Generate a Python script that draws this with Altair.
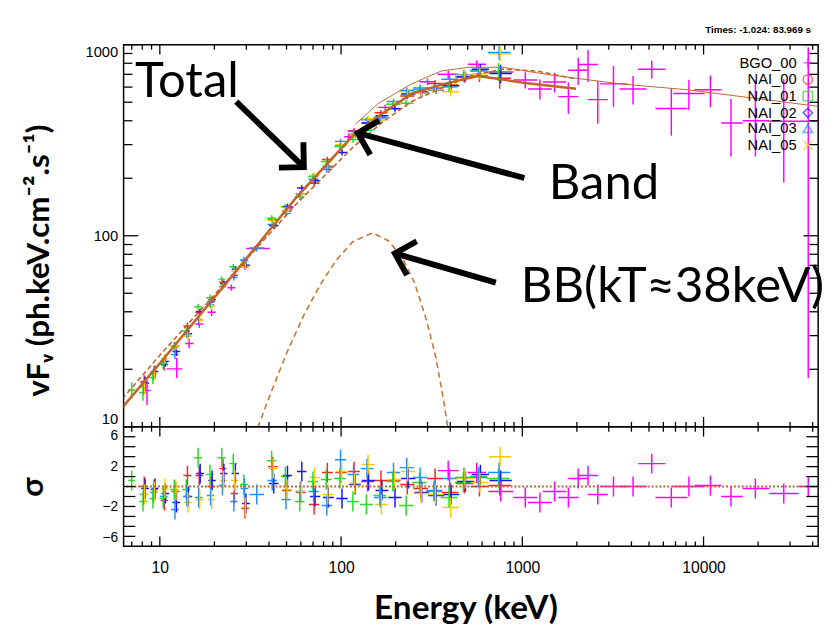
import altair as alt
import pandas as pd

# ---------------- data ----------------
DETECTORS = ["BGO_00", "NAI_00", "NAI_01", "NAI_02", "NAI_03", "NAI_05"]
DET_COLORS = ["#ff00ff", "#ff2020", "#22dd22", "#1515ff", "#1e90ff", "#f2cc00"]
DET_SHAPES = ["M-1,0H1M0,-1V1", "circle", "square", "diamond", "triangle-up", "M-1,-1L1,1M-1,1L1,-1"]

# NaI energy bins (keV)
NAI_E = [7.1, 8.2, 9.3, 10.6, 12.2, 14.2, 16.5, 19.2, 22.3, 25.8, 29.5, 34.5, 42, 50, 60, 71, 84, 100, 118, 140, 166, 196, 232, 275, 330, 400, 480, 580, 750]
NAI_ELO = [6.8, 7.8, 8.9, 10.1, 11.6, 13.5, 15.7, 18.3, 21.3, 24.6, 28.1, 31.5, 39.5, 47.2, 56.5, 66.5, 78.5, 93, 109.5, 129, 153, 180, 212, 251, 298, 360, 430, 520, 650]
NAI_EHI = [7.4, 8.6, 9.7, 11.1, 12.8, 14.9, 17.3, 20.1, 23.3, 27.0, 31.0, 37.8, 44.6, 53, 63.7, 75.8, 90, 107.5, 127, 152, 180, 213, 254, 301, 365, 444, 536, 647, 865]
NAI_DF = [1.5, 1.4, 1.4, 1.4, 1.35, 1.45, 1.5, 1.8, 1.9, 2.2, 2.6, 3.6, 4.5, 4.8, 5.9, 7.0, 8.4, 10, 11.8, 13.3, 15.1, 16.8, 21.4, 22.9, 27.2, 31.8, 39.7, 48, 79]
NAI_SHIFT = {"NAI_00": 1.0, "NAI_01": 0.985, "NAI_02": 1.012, "NAI_03": 0.993, "NAI_05": 1.006}

NAI_F = {
    "NAI_00": [None, 17.2, 19.4, 21.1, 26.3, 33.7, 39.8, 45.2, 57.2, 62.2, 68.8, None, 121, 135, 165.5, 188.3, 250.7, 299, 355, 388, 440, 490, 539, 568, 626, 616, 673, 686, 668],
    "NAI_01": [15.6, 15.1, 18.1, 21.3, 26.6, 31.7, 42.5, 47.4, 59.3, 68.9, 75.0, None, 123.6, 141.8, 160, 204.5, 244.9, 293, 319, 357, 417, 488, 494, 582, 590, 600, 677, 734, 723],
    "NAI_02": [None, 16.9, 19.5, 22.0, 24.8, 30.7, 40.1, 46.3, 56.2, 66.7, 70.1, None, 113.3, 142.3, 177.9, 194, 229.8, 273, 339, 389, 425, 462, 552, 559, 580, 610, 681, 744, 707],
    "NAI_03": [None, 16.1, 19.0, 21.6, 23.9, 30.7, 36.4, 43.6, 54.0, 60.5, 74.0, 86.4, 114.7, 130.8, 166, 197.5, 223, 312, 351, 405, 414, 504, 576, 594, 593, 660, 697, 729, 910],
    "NAI_05": [None, 16.1, 19.1, 22.7, 26.5, 29.8, 36.1, 42.8, 54.9, 65.1, 69.0, None, 120, 135.6, 166, 207.3, 232.3, 300, 341, 410, 404, 492, 567, 557, 582, 568, 693, 705, 898],
}
NAI_R = {
    "NAI_00": [None, 0.0, -0.3, -1.4, -0.5, 1.1, 1.1, 0.0, 1.8, -0.7, -2.2, None, 2.0, -0.4, -0.6, -1.8, 1.4, 1.4, 1.5, 0.5, 0.6, 0.6, 0.2, -0.2, 0.8, -0.6, 0.3, 0.0, 0.1],
    "NAI_01": [0.6, -1.5, -1.2, -1.2, -0.3, -0.3, 2.9, 1.2, 2.9, 2.3, 0.2, None, 2.6, 1.0, -1.5, 0.5, 0.7, 0.8, -1.5, -1.8, -0.9, 0.5, -1.9, 0.4, -0.5, -1.1, 0.4, 1.0, 0.8],
    "NAI_02": [None, -0.2, -0.2, -0.7, -1.6, -1.0, 1.3, 0.6, 1.3, 1.3, -1.7, None, 0.3, 1.1, 1.5, -1.0, -1.1, -1.2, 0.2, 0.6, -0.4, -1.1, 0.8, -0.6, -0.9, -0.8, 0.5, 1.2, 0.6],
    "NAI_03": [None, -0.8, -0.6, -1.0, -2.3, -1.0, -1.1, -0.9, 0.1, -1.5, -0.2, -0.8, 0.6, -1.3, -0.5, -0.5, -1.9, 2.7, 1.2, 1.8, -1.1, 1.4, 1.9, 0.9, -0.4, 0.8, 0.9, 0.9, 1.4],
    "NAI_05": [None, -0.8, -0.5, -0.2, -0.4, -1.6, -1.3, -1.3, 0.6, 0.6, -2.1, None, 1.8, -0.3, -0.5, 0.9, -0.8, 1.5, 0.3, 2.2, -1.8, 0.7, 1.5, -0.7, -0.8, -2.1, 0.8, 0.4, 3.0],
}

# BGO points in the spectrum panel
BGO_E = [8.5, 12.4, 14.5, 16.5, 19.3, 24.8, 33.4, 52.3, 110, 175, 300, 390, 560, 760, 1038, 1250, 1507, 1795, 2033, 2303, 2608, 3184, 4083, 5176, 6637, 8300, 10910, 14170, 19320, 27700, 37800]
BGO_ELO = [8.1, 10.9, 13.8, 15.7, 18.3, 23.6, 29.9, 50.0, 104, 160, 270, 340, 500, 650, 893, 1076, 1297, 1580, 1790, 2028, 2300, 2680, 3440, 4360, 5430, 6790, 8920, 12500, 16440, 23010, 33420]
BGO_EHI = [8.9, 13.3, 15.3, 17.3, 20.3, 26.0, 40.4, 54.7, 116, 190, 330, 445, 630, 890, 1206, 1452, 1750, 2040, 2310, 2615, 2960, 3780, 4850, 6150, 8110, 10150, 12500, 16440, 23010, 33420, 43450]
BGO_F = [15.5, 20.1, 27.3, 34.5, 39.8, 53.5, 85.7, 141, 330, 470, 640, 700, 790, 720, 653, 587, 638, 535, 736, 789, 516, 624, 587, 745, 464, 555, 581, 389, 400, 398, 398]
BGO_FLO = [13.0, 18.0, 25.8, 33.0, 38.0, 51.5, 83.0, 137, 318, 455, 615, 665, 750, 675, 590, 517, 563, 435, 616, 639, 386, 474, 487, 665, 334, 455, 471, 260, 260, 190, 18]
BGO_FHI = [17.4, 23.0, 28.8, 36.0, 41.7, 55.5, 88.5, 145, 342, 485, 665, 735, 830, 765, 718, 657, 713, 635, 856, 939, 646, 774, 687, 825, 594, 655, 691, 520, 650, 660, 970]

# BGO residuals
BGO_RE = [390, 560, 760, 1038, 1250, 1507, 1795, 2033, 2303, 2608, 3184, 4083, 5176, 6637, 8300, 10910, 14170, 19320, 27700, 37800]
BGO_RLO = [340, 500, 650, 893, 1076, 1297, 1580, 1790, 2028, 2300, 2680, 3440, 4360, 5430, 6790, 8920, 12500, 16440, 23010, 33420]
BGO_RHI = [445, 630, 890, 1206, 1452, 1750, 2040, 2310, 2615, 2960, 3780, 4850, 6150, 8110, 10150, 12500, 16440, 23010, 33420, 43450]
BGO_R = [1.6, 1.4, -0.5, -1.1, -1.6, -0.5, -1.1, 0.8, 1.1, -0.8, 0.0, 0.0, 2.3, -1.1, 0.0, 0.1, -1.0, -0.2, -0.7, 0.0]

# model curves
TOTAL_E = [6.2, 10, 21.1, 57, 116, 169, 245, 370, 571, 810, 1038, 1981]
TOTAL_F = [12.6, 21.5, 50.5, 160, 333, 437, 555, 624, 686, 653, 631, 588]
BAND_E = [6.2, 10, 20.3, 57, 116, 169, 245, 370, 537, 780, 1205, 1981]
BAND_F = [14.0, 23.7, 49.8, 147.5, 290, 393, 505, 601, 693, 745, 728, 662]
BB_E = [34.7, 40.8, 50.5, 62.4, 76.1, 94.0, 116, 149, 182, 216, 254, 295, 334, 370, 384, 392]
BB_F = [9.9, 14.9, 24.8, 38.5, 54.7, 74.5, 93.1, 103.6, 94.2, 78.0, 56.8, 36.6, 22.9, 13.3, 10.5, 9.1]
THIN_E = [120, 160, 245, 356, 505, 780, 1452, 3475, 8300, 43400]
THIN_F = [384, 492, 624, 728, 762, 762, 693, 624, 580, 475]

# annotations (data coordinates)
ANNOT_TEXT = ["Total", "Band", "BB(kT\u224838keV)"]
ANNOT_E = [7.3, 1400, 980]
ANNOT_F = [535, 155, 44.8]
ARROW_E0 = [26.4, 1026, 714]
ARROW_F0 = [504, 200.7, 56.8]
ARROW_E1 = [62.3, 123.6, 198]
ARROW_F1 = [228.6, 345, 80.9]
ARROW_ANGLE = [134, 285, 286]

XT_MAJOR = [10, 100, 1000, 10000]
XT_MINOR = [7, 8, 9, 20, 30, 40, 50, 60, 70, 80, 90, 200, 300, 400, 500, 600, 700, 800, 900,
            2000, 3000, 4000, 5000, 6000, 7000, 8000, 9000, 20000, 30000, 40000]
YT_MAJOR = [10, 100, 1000]
YT_MINOR = [20, 30, 40, 50, 60, 70, 80, 90, 200, 300, 400, 500, 600, 700, 800, 900]
RT_VALUES = [-5, -4, -3, -2, -1, 0, 1, 2, 3, 4, 5]
RT_LABELS = [-6, -4, -2, 0, 2, 4, 6]

# ---------------- tables ----------------
rows = []
for i, e in enumerate(BGO_E):
    rows.append(dict(det="BGO_00", E=e, Elo=BGO_ELO[i], Ehi=BGO_EHI[i],
                     F=BGO_F[i], Flo=BGO_FLO[i], Fhi=BGO_FHI[i]))
for det in ["NAI_00", "NAI_01", "NAI_02", "NAI_03", "NAI_05"]:
    s = NAI_SHIFT[det]
    for i, e in enumerate(NAI_E):
        f = NAI_F[det][i]
        if f is None:
            continue
        rows.append(dict(det=det, E=e * s, Elo=NAI_ELO[i] * s, Ehi=NAI_EHI[i] * s,
                         F=f, Flo=f - NAI_DF[i], Fhi=f + NAI_DF[i]))
main_df = pd.DataFrame(rows)

rrows = []
for det in ["NAI_00", "NAI_01", "NAI_02", "NAI_03", "NAI_05"]:
    s = NAI_SHIFT[det]
    for i, e in enumerate(NAI_E):
        r = NAI_R[det][i]
        if r is None:
            continue
        rrows.append(dict(det=det, E=e * s, Elo=NAI_ELO[i] * s, Ehi=NAI_EHI[i] * s,
                          r=r, rlo=r - 1, rhi=r + 1))
for i, e in enumerate(BGO_RE):
    r = BGO_R[i]
    rrows.append(dict(det="BGO_00", E=e, Elo=BGO_RLO[i], Ehi=BGO_RHI[i], r=r, rlo=r - 1, rhi=r + 1))
res_df = pd.DataFrame(rrows)

# legend proxies: one per detector, placed below the plotted range (clipped away)
legend_df = pd.DataFrame({"det": DETECTORS, "E": [100] * len(DETECTORS), "F": [1] * len(DETECTORS)})

total_df = pd.DataFrame({"E": TOTAL_E, "F": TOTAL_F})
band_df = pd.DataFrame({"E": BAND_E, "F": BAND_F})
bb_df = pd.DataFrame({"E": BB_E, "F": BB_F})
thin_df = pd.DataFrame({"E": THIN_E, "F": THIN_F})
annot_df = pd.DataFrame({"t": ANNOT_TEXT, "E": ANNOT_E, "F": ANNOT_F})
arrow_df = pd.DataFrame({"E0": ARROW_E0, "F0": ARROW_F0, "E1": ARROW_E1, "F1": ARROW_F1, "ang": ARROW_ANGLE})

# ---------------- layout / style ----------------
W, H1, H2 = 709, 390, 122
BROWN = "#c0652a"
LABEL_FONT = "Liberation Sans"
BIG_FONT = "Lato"

XS = alt.Scale(type="log", domain=[6.31, 42870])
YS = alt.Scale(type="log", domain=[10, 1000])
RS = alt.Scale(domain=[-6, 6])
CS = alt.Scale(domain=DETECTORS, range=DET_COLORS)
SS = alt.Scale(domain=DETECTORS, range=DET_SHAPES)

y_axis = alt.Axis(values=YT_MAJOR, format="d", ticks=False, tickSize=0, domain=False, grid=False,
                  labelFont=LABEL_FONT, labelFontSize=15, labelPadding=6, labelFlush=True,
                  labelFlushOffset=0,
                  title="vF\u1d65 (ph.keV.cm\u207b\u00b2.s\u207b\u00b9)", titleFont=BIG_FONT,
                  titleFontSize=32, titleFontWeight="bold", titleAngle=270, titleX=-87, titleY=220,
                  titleAlign="center", titleBaseline="middle")
x_axis = alt.Axis(values=XT_MAJOR, format="d", ticks=False, tickSize=0, domain=False, grid=False,
                  labelFont=LABEL_FONT, labelFontSize=16, labelPadding=14,
                  title="Energy (keV)", titleFont=BIG_FONT, titleFontSize=34, titleFontWeight="bold",
                  titleX=349, titleY=64, titleAlign="center", titleBaseline="middle")
r_axis = alt.Axis(values=RT_LABELS, ticks=False, tickSize=0, domain=False, grid=False,
                  labelFont=LABEL_FONT, labelFontSize=14, labelPadding=6, labelFlush=True,
                  labelFlushOffset=-2,
                  title="\u03c3", titleFont=BIG_FONT, titleFontSize=32, titleFontWeight="bold",
                  titleAngle=270, titleX=-93, titleY=61, titleAlign="center", titleBaseline="middle")


def X(f):          # spectrum panel x (no axis there)
    return alt.X(f"{f}:Q", scale=XS, axis=None)


def XR(f):         # residual panel x
    return alt.X(f"{f}:Q", scale=XS, axis=x_axis)


def Y(f):
    return alt.Y(f"{f}:Q", scale=YS, axis=y_axis)


def R(f):
    return alt.Y(f"{f}:Q", scale=RS, axis=r_axis)


STROKE = alt.Stroke("det:N", scale=CS, legend=None)

LEG = dict(orient="none", legendX=691, legendY=11, title=None, labelFont=LABEL_FONT,
           labelFontSize=15, labelAlign="right", labelOffset={"expr": "-19"}, symbolSize=90,
           symbolStrokeWidth=1.5, rowPadding=0)

# spectrum panel
hbar = alt.Chart(main_df).mark_rule(strokeWidth=1.5, clip=True).encode(
    x=X("Elo"), x2="Ehi", y=Y("F"), stroke=STROKE)
vbar = alt.Chart(main_df).mark_rule(strokeWidth=1.5, clip=True).encode(
    x=X("E"), y=Y("Flo"), y2="Fhi", stroke=STROKE)
legend_pts = alt.Chart(legend_df).mark_point(filled=False, strokeWidth=1.5, clip=True).encode(
    x=X("E"), y=Y("F"),
    color=alt.Color("det:N", scale=CS, legend=alt.Legend(**LEG)),
    shape=alt.Shape("det:N", scale=SS, legend=alt.Legend(**LEG)))

thin = alt.Chart(thin_df).mark_line(color=BROWN, strokeWidth=1, clip=True).encode(x=X("E"), y=Y("F"))
band = alt.Chart(band_df).mark_line(color=BROWN, strokeWidth=1.6, strokeDash=[5, 3], clip=True).encode(x=X("E"), y=Y("F"))
bb = alt.Chart(bb_df).mark_line(color="#c87533", strokeWidth=1.6, strokeDash=[6, 4], clip=True).encode(x=X("E"), y=Y("F"))
total = alt.Chart(total_df).mark_line(color=BROWN, strokeWidth=2.6, clip=True).encode(x=X("E"), y=Y("F"))

texts = alt.Chart(annot_df).mark_text(font=BIG_FONT, fontSize=50, align="left", baseline="alphabetic",
                                      color="black").encode(x=X("E"), y=Y("F"), text="t:N")
arrows = alt.Chart(arrow_df).mark_rule(color="black", strokeWidth=6).encode(
    x=X("E0"), y=Y("F0"), x2="E1", y2="F1")
heads = alt.Chart(arrow_df).mark_point(shape="M-1,1L0,0L1,1", size=1300, filled=False,
                                       strokeWidth=6, color="black", opacity=1,
                                       strokeJoin="miter").encode(
    x=X("E1"), y=Y("F1"), angle=alt.Angle("ang:Q", scale=None))


def edge_ticks_x(values, length, H, xch):
    df = pd.DataFrame({"v": values})
    base = alt.Chart(df).mark_rule(color="black", strokeWidth=1.3)
    return [base.encode(x=xch("v"), y=alt.value(0), y2=alt.value(length)),
            base.encode(x=xch("v"), y=alt.value(H), y2=alt.value(H - length))]


def edge_ticks_y(values, length, ych):
    df = pd.DataFrame({"v": values})
    base = alt.Chart(df).mark_rule(color="black", strokeWidth=1.3)
    return [base.encode(y=ych("v"), x=alt.value(0), x2=alt.value(length)),
            base.encode(y=ych("v"), x=alt.value(W), x2=alt.value(W - length))]


main_ticks = (edge_ticks_x(XT_MAJOR, 10, H1, X) + edge_ticks_x(XT_MINOR, 5, H1, X)
              + edge_ticks_y(YT_MAJOR, 15, Y) + edge_ticks_y(YT_MINOR, 9, Y))

top = alt.layer(legend_pts, hbar, vbar, thin, band, bb, total, arrows, heads, texts,
                *main_ticks).properties(width=W, height=H1)

# residual panel
rh = alt.Chart(res_df).mark_rule(strokeWidth=1.5, clip=True).encode(
    x=XR("Elo"), x2="Ehi", y=R("r"), stroke=STROKE)
rv = alt.Chart(res_df).mark_rule(strokeWidth=1.5, clip=True).encode(
    x=XR("E"), y=R("rlo"), y2="rhi", stroke=STROKE)
zero = alt.Chart(pd.DataFrame({"z": [0]})).mark_rule(color=BROWN, strokeWidth=2, strokeDash=[2, 2]).encode(y=R("z"))
res_ticks = (edge_ticks_x(XT_MAJOR, 10, H2, XR) + edge_ticks_x(XT_MINOR, 5, H2, XR)
             + edge_ticks_y(RT_VALUES, 12, R))
bottom = alt.layer(rh, rv, zero, *res_ticks).properties(width=W, height=H2)

chart = alt.vconcat(top, bottom, spacing=0, bounds="flush").properties(
    title=alt.TitleParams("Times: -1.024: 83.969 s", anchor="end", fontSize=10, fontWeight="bold",
                          font=LABEL_FONT, offset=9, dx=-14),
    padding={"left": 8, "top": 10, "right": 0, "bottom": 0},
    background="white",
).configure_view(stroke="black", strokeWidth=1.5)

chart.save("out.html", embed_options={"renderer": "svg", "actions": False})
